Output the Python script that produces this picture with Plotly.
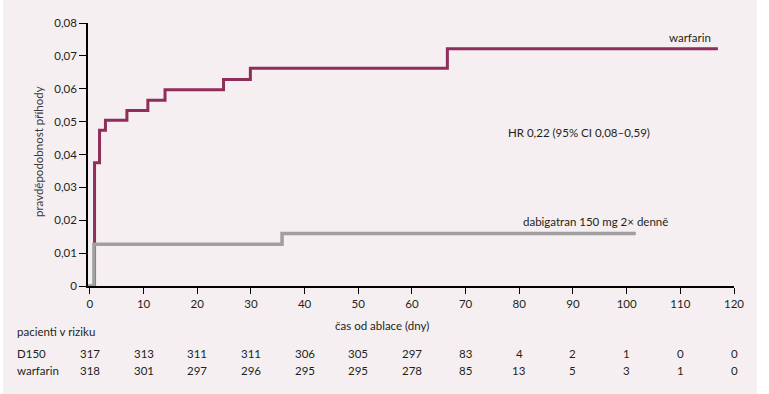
import plotly.graph_objects as go

# Kaplan-Meier step data
warf_x = [0, 0.87, 1.8, 2.9, 6.9, 10.8, 14.0, 24.9, 29.9, 66.6, 117.0]
warf_y = [0, 0.0375, 0.0474, 0.0504, 0.0534, 0.0565, 0.0597, 0.0628, 0.0662, 0.0722, 0.0722]
dabi_x = [-0.35, 0.76, 35.8, 101.7]
dabi_y = [0, 0.0127, 0.016, 0.016]

y_ticks = [0, 0.01, 0.02, 0.03, 0.04, 0.05, 0.06, 0.07, 0.08]
y_ticklabels = ["0", "0,01", "0,02", "0,03", "0,04", "0,05", "0,06", "0,07", "0,08"]
x_ticks = [0, 10, 20, 30, 40, 50, 60, 70, 80, 90, 100, 110, 120]

risk_d150 = [317, 313, 311, 311, 306, 305, 297, 83, 4, 2, 1, 0, 0]
risk_warf = [318, 301, 297, 296, 295, 295, 278, 85, 13, 5, 3, 1, 0]

MAROON = "#8f2d5b"
GRAY = "#a0a0a0"
BG = "#f5eff1"
TXT = "#231f20"
FONT = "Lato"

fig = go.Figure()
fig.add_trace(go.Scatter(x=warf_x, y=warf_y, mode="lines", line=dict(color=MAROON, width=3, shape="hv"),
                         showlegend=False, hoverinfo="skip"))
fig.add_trace(go.Scatter(x=dabi_x, y=dabi_y, mode="lines", line=dict(color=GRAY, width=3.5, shape="hv"),
                         showlegend=False, hoverinfo="skip"))

L, R, T, B = 88, 35, 23, 108
W, H = 769, 394
pw, ph = W - L - R, H - T - B

def py(pix):
    return (H - B - pix) / ph

def px(pix):
    return (pix - L) / pw

ann = []
# curve labels
ann.append(dict(x=116.1, y=0.0756, xref="x", yref="y", text="warfarin", showarrow=False,
                xanchor="right", yanchor="middle", font=dict(size=11.5, color=TXT)))
ann.append(dict(x=77.5, y=0.0466, xref="x", yref="y", text="HR 0,22 (95% CI 0,08–0,59)", showarrow=False,
                xanchor="left", yanchor="middle", font=dict(size=11.5, color=TXT)))
ann.append(dict(x=80.3, y=0.0195, xref="x", yref="y", text="dabigatran 150 mg 2× denně", showarrow=False,
                xanchor="left", yanchor="middle", font=dict(size=11.5, color=TXT)))
# axis titles
ann.append(dict(x=54.5, y=py(325), xref="x", yref="paper", text="čas od ablace (dny)", showarrow=False,
                xanchor="center", yanchor="middle", font=dict(size=11.5, color=TXT)))
ann.append(dict(x=px(38), y=py(152), xref="paper", yref="paper", text="pravděpodobnost příhody", showarrow=False,
                textangle=-90, xanchor="center", yanchor="middle", font=dict(size=11.5, color="#3a3a3a")))
# risk table
ann.append(dict(x=px(15), y=py(331), xref="paper", yref="paper", text="pacienti v riziku", showarrow=False,
                xanchor="left", yanchor="middle", font=dict(size=11.5, color=TXT)))
ann.append(dict(x=px(15), y=py(353), xref="paper", yref="paper", text="D150", showarrow=False,
                xanchor="left", yanchor="middle", font=dict(size=11.5, color=TXT)))
ann.append(dict(x=px(15), y=py(370), xref="paper", yref="paper", text="warfarin", showarrow=False,
                xanchor="left", yanchor="middle", font=dict(size=11.5, color=TXT)))
for t, d, w in zip(x_ticks, risk_d150, risk_warf):
    ann.append(dict(x=t, y=py(353), xref="x", yref="paper", text=str(d), showarrow=False,
                    xanchor="center", yanchor="middle", font=dict(size=11.5, color=TXT)))
    ann.append(dict(x=t, y=py(370), xref="x", yref="paper", text=str(w), showarrow=False,
                    xanchor="center", yanchor="middle", font=dict(size=11.5, color=TXT)))

shapes = [dict(type="rect", xref="paper", yref="paper", x0=px(3), x1=px(757), y0=py(394), y1=py(0),
               fillcolor=BG, line=dict(width=0), layer="below")]

fig.update_layout(
    width=W, height=H,
    margin=dict(l=L, r=R, t=T, b=B),
    paper_bgcolor="white", plot_bgcolor="rgba(0,0,0,0)",
    font=dict(family=FONT, size=11.5, color=TXT),
    annotations=ann, shapes=shapes,
    xaxis=dict(range=[-0.35, 120], tickvals=x_ticks, ticks="outside", ticklen=6, tickwidth=1.2,
               tickcolor="black", showline=True, linecolor="black", linewidth=1.5, showgrid=False,
               zeroline=False, tickfont=dict(size=11.5, color=TXT)),
    yaxis=dict(range=[0, 0.08], tickvals=y_ticks, ticktext=y_ticklabels, ticks="outside", ticklen=7,
               tickwidth=1.2, tickcolor="black", showline=True, linecolor="black", linewidth=1.5,
               showgrid=False, zeroline=False, tickfont=dict(size=11.5, color=TXT)),
)

fig.write_html("out.html", config={"displayModeBar": False},
               post_script="document.body.style.margin='0';document.body.style.overflow='hidden';")
